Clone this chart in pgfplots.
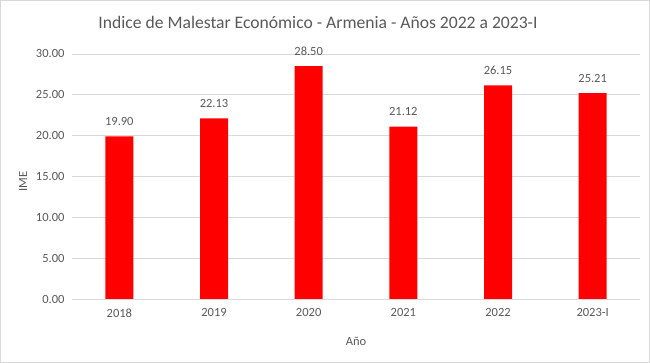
\documentclass[border=0pt]{standalone}
\usepackage{pgfplots}
\pgfplotsset{compat=1.18}
\usepackage{fontspec}
\setmainfont{Carlito}
\definecolor{txt}{RGB}{89,89,89}
\definecolor{gridc}{RGB}{217,217,217}
\begin{document}
\begin{tikzpicture}[x=1pt,y=1pt]
\path[use as bounding box] (0,0) rectangle (650,363);
\draw[gridc, line width=0.8pt] (0.5,0.5) rectangle (649.5,362.5);
\node[txt, font=\fontsize{17.6}{20}\selectfont] at (318,341) {Indice de Malestar Económico - Armenia - Años 2022 a 2023-I};
\begin{axis}[
  at={(72pt,64pt)}, anchor=south west,
  scale only axis, width=568pt, height=245pt,
  xmin=-0.5, xmax=5.5, ymin=0, ymax=30,
  xtick={0,1,2,3,4,5},
  xticklabels={2018,2019,2020,2021,2022,2023-I},
  ytick={0,5,10,15,20,25,30},
  yticklabel={\pgfmathprintnumber[fixed,fixed zerofill,precision=2]{\tick}},
  /pgf/number format/assume math mode=true,
  ymajorgrids, xmajorgrids=false,
  grid style={draw=gridc, line width=0.8pt},
  axis x line*=bottom,
  axis y line*=left,
  x axis line style={draw=gridc, line width=0.8pt, -},
  y axis line style={draw=none},
  major tick length=0pt,
  tick label style={txt, font=\fontsize{12.5}{14}\selectfont},
  xticklabel style={yshift=-6pt},
  yticklabel style={xshift=-4pt},
  xlabel={Año}, ylabel={IME},
  label style={txt, font=\fontsize{12.5}{14}\selectfont},
  xlabel style={at={(rel axis cs:0.5,0)}, anchor=center, yshift=-42pt},
  ylabel style={at={(rel axis cs:0,0.48)}, anchor=center, yshift=49pt},
  nodes near coords,
  nodes near coords style={txt, font=\fontsize{12.5}{14}\selectfont, yshift=7pt,
    /pgf/number format/.cd, fixed, fixed zerofill, precision=2, assume math mode=true},
]
\addplot[ybar, bar width=28pt, fill=red, draw=none] coordinates {
(0,19.90) (1,22.13) (2,28.50) (3,21.12) (4,26.15) (5,25.21)};
\end{axis}
\end{tikzpicture}
\end{document}
